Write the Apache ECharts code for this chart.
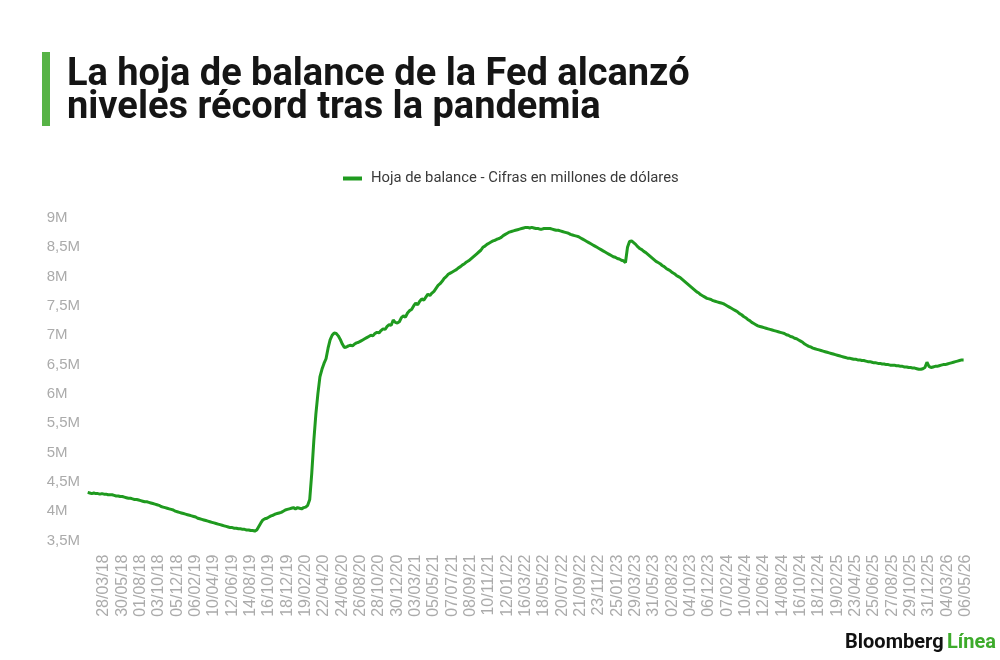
<!DOCTYPE html>
<html>
<head>
<meta charset="utf-8">
<script src="https://cdn.jsdelivr.net/npm/echarts@6/dist/echarts.min.js"></script>
<style>
html,body{margin:0;padding:0;background:#fff;}
#chart{width:1000px;height:660px;}
</style>
</head>
<body>
<div id="chart"></div>
<script>
// Tick labels (every 9 weeks)
const tickLabels = ["28/03/18","30/05/18","01/08/18","03/10/18","05/12/18","06/02/19","10/04/19","12/06/19","14/08/19","16/10/19","18/12/19","19/02/20","22/04/20","24/06/20","26/08/20","28/10/20","30/12/20","03/03/21","05/05/21","07/07/21","08/09/21","10/11/21","12/01/22","16/03/22","18/05/22","20/07/22","21/09/22","23/11/22","25/01/23","29/03/23","31/05/23","02/08/23","04/10/23","06/12/23","07/02/24","10/04/24","12/06/24","14/08/24","16/10/24","18/12/24","19/02/25","23/04/25","25/06/25","27/08/25","29/10/25","31/12/25","04/03/26","06/05/26"];

const seriesName = "Hoja de balance - Cifras en millones de dólares";

// Weekly values, in millions of millions (M)
const balance = [
4.32,4.31,4.30,4.31,4.30,4.30,4.29,4.30,4.29,4.29,
4.28,4.28,4.28,4.27,4.26,4.26,4.25,4.25,4.24,4.23,
4.22,4.22,4.21,4.20,4.20,4.19,4.18,4.17,4.16,4.16,
4.15,4.14,4.13,4.12,4.11,4.10,4.08,4.07,4.06,4.05,
4.04,4.03,4.02,4.00,3.99,3.98,3.97,3.96,3.95,3.94,
3.93,3.92,3.91,3.90,3.88,3.87,3.86,3.85,3.84,3.83,
3.82,3.81,3.80,3.79,3.78,3.77,3.76,3.75,3.74,3.73,
3.72,3.72,3.71,3.71,3.70,3.70,3.69,3.69,3.68,3.68,
3.67,3.67,3.66,3.68,3.74,3.80,3.85,3.87,3.88,3.90,
3.92,3.93,3.95,3.96,3.97,3.98,4.00,4.02,4.03,4.04,
4.05,4.06,4.04,4.06,4.05,4.04,4.06,4.07,4.10,4.20,
4.65,5.20,5.65,6.00,6.29,6.42,6.52,6.60,6.78,6.92,
7.00,7.04,7.03,6.99,6.93,6.85,6.79,6.80,6.82,6.83,
6.82,6.85,6.87,6.88,6.90,6.92,6.94,6.96,6.98,7.00,
6.99,7.03,7.05,7.04,7.08,7.11,7.10,7.15,7.18,7.17,
7.26,7.22,7.21,7.23,7.30,7.33,7.31,7.38,7.42,7.44,
7.50,7.55,7.52,7.58,7.62,7.60,7.65,7.70,7.68,7.72,
7.75,7.80,7.85,7.88,7.92,7.97,8.00,8.04,8.06,8.08,
8.10,8.12,8.15,8.17,8.20,8.22,8.25,8.27,8.30,8.33,
8.36,8.39,8.42,8.45,8.50,8.52,8.55,8.57,8.59,8.61,
8.62,8.64,8.65,8.67,8.70,8.72,8.74,8.76,8.77,8.78,
8.79,8.80,8.81,8.82,8.83,8.84,8.84,8.83,8.84,8.83,
8.82,8.82,8.81,8.81,8.82,8.82,8.82,8.82,8.81,8.80,
8.79,8.79,8.78,8.77,8.76,8.75,8.74,8.72,8.71,8.70,
8.69,8.68,8.66,8.64,8.62,8.60,8.58,8.56,8.54,8.52,
8.50,8.48,8.46,8.44,8.42,8.40,8.38,8.36,8.34,8.33,
8.31,8.30,8.28,8.27,8.24,8.50,8.60,8.61,8.58,8.55,
8.51,8.48,8.46,8.43,8.41,8.38,8.35,8.32,8.29,8.26,
8.24,8.22,8.19,8.17,8.14,8.12,8.10,8.07,8.05,8.02,
8.00,7.98,7.95,7.92,7.89,7.86,7.83,7.80,7.77,7.74,
7.72,7.69,7.67,7.65,7.63,7.62,7.61,7.59,7.58,7.57,
7.56,7.55,7.54,7.52,7.50,7.48,7.46,7.44,7.42,7.40,
7.37,7.35,7.32,7.30,7.27,7.25,7.22,7.20,7.18,7.16,
7.15,7.14,7.13,7.12,7.11,7.10,7.09,7.08,7.07,7.06,
7.05,7.04,7.03,7.01,7.00,6.98,6.97,6.95,6.94,6.92,
6.90,6.88,6.85,6.83,6.81,6.80,6.78,6.77,6.76,6.75,
6.74,6.73,6.72,6.71,6.70,6.69,6.68,6.67,6.66,6.65,
6.64,6.63,6.62,6.61,6.61,6.60,6.59,6.59,6.58,6.58,
6.57,6.57,6.56,6.55,6.55,6.54,6.53,6.53,6.52,6.52,
6.51,6.51,6.50,6.50,6.49,6.49,6.49,6.48,6.48,6.47,
6.47,6.46,6.46,6.45,6.45,6.44,6.44,6.43,6.42,6.42,
6.43,6.45,6.54,6.47,6.45,6.46,6.47,6.47,6.48,6.49,
6.50,6.50,6.51,6.52,6.53,6.54,6.55,6.56,6.57,6.58,6.58
];

// Week position of each value (first week is position 1; tick k sits at 9*(k+1))
const weekPos = balance.map((v, i) => i + 1);

const chart = echarts.init(document.getElementById('chart'), null, {renderer: 'canvas'});

const option = {
  backgroundColor: '#ffffff',
  animation: false,
  title: {
    text: 'La hoja de balance de la Fed alcanzó\nniveles récord tras la pandemia',
    left: 62,
    top: 54,
    textStyle: {
      fontFamily: 'Roboto, "Liberation Sans", sans-serif',
      fontWeight: 'bold',
      fontSize: 38,
      lineHeight: 33,
      color: '#151515'
    }
  },
  legend: {
    data: [seriesName],
    left: 338,
    top: 166,
    icon: 'rect',
    itemWidth: 19,
    itemHeight: 4,
    textStyle: {
      fontFamily: 'Roboto, "Liberation Sans", sans-serif',
      fontSize: 14.8,
      color: '#3a3a3a',
      padding: [0, 0, 0, 4]
    }
  },
  grid: {
    left: 85.66,
    right: 34.34,
    top: 218,
    bottom: 119.5,
    containLabel: false,
    outerBoundsMode: 'none'
  },
  xAxis: {
    type: 'value',
    min: 0,
    max: 432,
    interval: 9,
    axisLine: {show: false},
    axisTick: {show: false},
    splitLine: {show: false},
    axisLabel: {
      rotate: 90,
      margin: 14,
      color: '#ababab',
      fontSize: 16,
      fontFamily: '"Liberation Sans", Arial, sans-serif',
      showMinLabel: true,
      showMaxLabel: true,
      formatter: function (v) {
        const k = Math.round(v / 9) - 1;
        return (k >= 0 && k < tickLabels.length) ? tickLabels[k] : '';
      }
    }
  },
  yAxis: {
    type: 'value',
    min: 3.5,
    max: 9,
    interval: 0.5,
    axisLine: {show: false},
    axisTick: {show: false},
    splitLine: {show: false},
    axisLabel: {
      align: 'left',
      margin: 39,
      color: '#ababab',
      fontSize: 15,
      fontFamily: '"Liberation Sans", Arial, sans-serif',
      formatter: function (v) {
        return String(+v.toFixed(1)).replace('.', ',') + 'M';
      }
    }
  },
  series: [{
    name: seriesName,
    type: 'line',
    data: balance.map((v, i) => [weekPos[i], v]),
    showSymbol: false,
    symbol: 'none',
    color: '#1f9a1f',
    lineStyle: {color: '#1f9a1f', width: 3},
    emphasis: {disabled: true}
  }],
  graphic: [
    {
      type: 'rect',
      left: 42,
      top: 52,
      shape: {width: 8, height: 74},
      style: {fill: '#57b346'}
    },
    {
      type: 'text',
      left: 845,
      top: 633,
      style: {
        text: '{a|Bloomberg} {b|Línea}',
        rich: {
          a: {fontFamily: 'Roboto, "Liberation Sans", sans-serif', fontWeight: 'bold', fontSize: 20, fill: '#111111'},
          b: {fontFamily: 'Roboto, "Liberation Sans", sans-serif', fontWeight: 'bold', fontSize: 20, fill: '#3dab2b'}
        }
      }
    }
  ]
};

chart.setOption(option);
</script>
</body>
</html>
